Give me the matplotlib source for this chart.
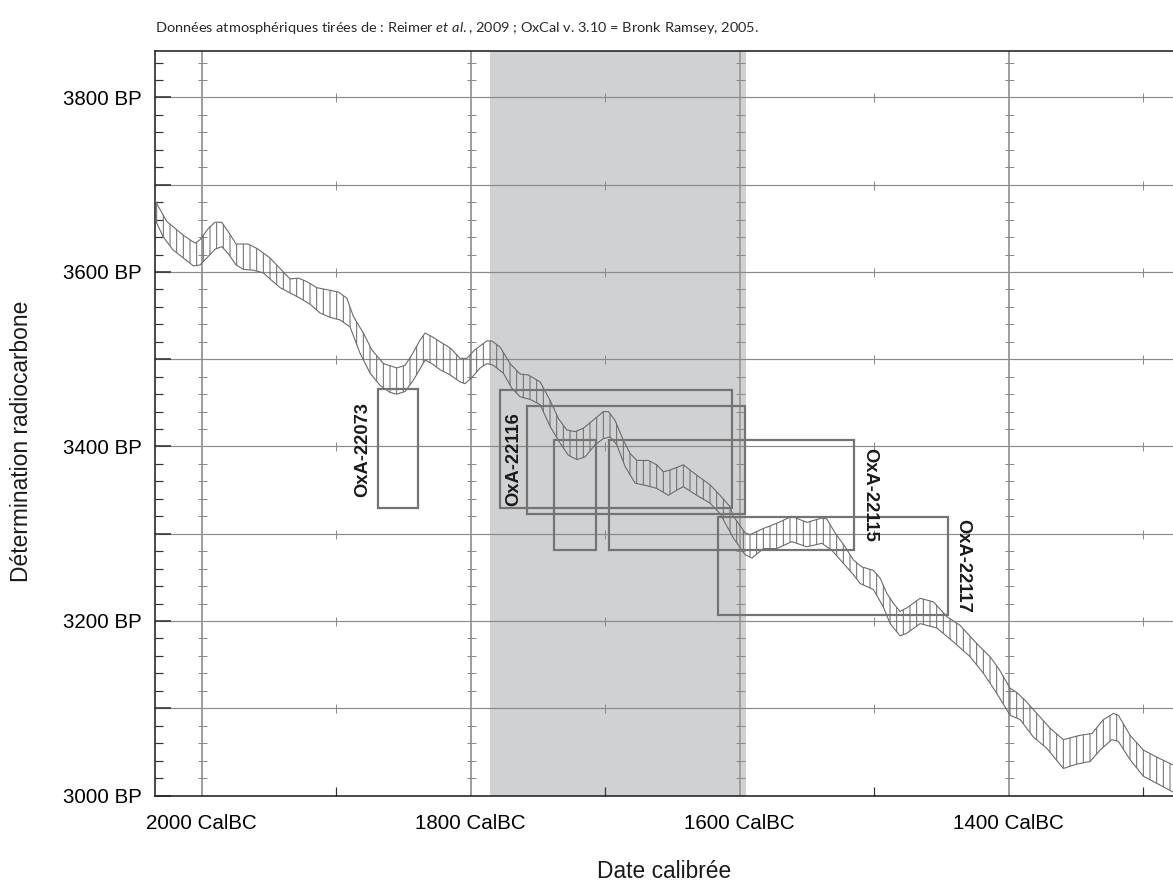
import matplotlib.pyplot as plt
import matplotlib.ticker as mticker
from matplotlib.patches import Rectangle

# courbe d'étalonnage (années av. J.-C. / BP), bord supérieur et inférieur
upper_year = [2034.6, 2025.9, 2013.5, 2004.8, 2001.1, 1994.9, 1990.0, 1985.0, 1980.1, 1974.3,
              1965.2, 1957.8, 1949.1, 1940.4, 1934.2, 1928.0, 1921.8, 1914.3, 1904.5, 1898.3,
              1892.0, 1887.1, 1879.7, 1873.5, 1864.8, 1854.9, 1848.7, 1843.7, 1837.5, 1833.8,
              1828.8, 1822.7, 1815.2, 1807.8, 1802.8, 1796.7, 1787.9, 1784.2, 1778.1, 1770.6,
              1763.2, 1757.0, 1748.3, 1740.9, 1734.7, 1728.5, 1722.3, 1716.1, 1707.4, 1701.3,
              1697.5, 1692.6, 1686.4, 1681.4, 1676.4, 1667.8, 1661.6, 1656.7, 1651.7, 1641.8,
              1631.8, 1621.9, 1614.5, 1607.1, 1604.6, 1595.9, 1592.2, 1582.3, 1572.3, 1561.2,
              1550.0, 1538.9, 1535.2, 1529.0, 1521.6, 1515.4, 1509.1, 1500.5, 1495.5, 1490.6,
              1485.6, 1480.7, 1475.7, 1465.8, 1455.9, 1445.9, 1436.1, 1423.6, 1413.8, 1407.6,
              1398.9, 1393.9, 1387.7, 1379.0, 1369.1, 1359.3, 1346.8, 1338.1, 1329.5, 1322.1,
              1318.4, 1309.7, 1299.8, 1289.9, 1277.8]
upper_bp = [3682, 3658, 3642, 3633, 3637, 3650, 3657, 3657, 3646, 3632,
            3632, 3626, 3616, 3602, 3592, 3593, 3589, 3582, 3579, 3577,
            3570, 3549, 3530, 3511, 3495, 3490, 3493, 3505, 3522, 3530,
            3526, 3520, 3513, 3501, 3501, 3511, 3521, 3521, 3514, 3495,
            3483, 3482, 3474, 3453, 3432, 3419, 3417, 3421, 3432, 3440,
            3440, 3430, 3407, 3392, 3384, 3384, 3379, 3371, 3373, 3379,
            3367, 3356, 3344, 3331, 3320, 3301, 3299, 3306, 3312, 3320,
            3313, 3318, 3317, 3301, 3285, 3270, 3262, 3258, 3249, 3232,
            3220, 3211, 3215, 3226, 3222, 3205, 3195, 3174, 3159, 3146,
            3123, 3118, 3109, 3094, 3077, 3064, 3069, 3071, 3087, 3094,
            3092, 3069, 3052, 3044, 3035]

lower_year = [2034.6, 2028.4, 2021.0, 2013.5, 2006.1, 2001.1, 1994.9, 1990.0, 1985.0, 1980.1,
              1974.3, 1968.9, 1961.5, 1954.1, 1949.1, 1941.6, 1934.2, 1926.8, 1919.3, 1911.9,
              1904.5, 1897.0, 1889.6, 1882.2, 1874.7, 1867.3, 1859.9, 1854.9, 1848.7, 1842.5,
              1833.8, 1828.8, 1822.7, 1815.2, 1807.8, 1804.1, 1799.1, 1792.9, 1787.9, 1783.0,
              1775.6, 1769.4, 1763.2, 1755.8, 1748.3, 1740.9, 1733.5, 1727.3, 1721.0, 1714.9,
              1707.4, 1701.3, 1696.3, 1691.3, 1685.1, 1677.7, 1669.0, 1661.6, 1652.9, 1646.7,
              1641.8, 1631.8, 1621.9, 1614.5, 1604.6, 1595.9, 1590.9, 1582.3, 1572.3, 1561.2,
              1550.0, 1538.9, 1531.4, 1522.8, 1515.4, 1510.4, 1500.5, 1493.1, 1488.1, 1480.7,
              1475.7, 1465.8, 1453.4, 1441.0, 1428.6, 1418.7, 1408.8, 1398.9, 1391.4, 1381.6,
              1371.6, 1359.3, 1349.3, 1339.4, 1332.0, 1323.3, 1318.4, 1309.7, 1299.8, 1289.9,
              1277.8]
lower_bp = [3660, 3640, 3625, 3616, 3607, 3608, 3618, 3626, 3629, 3621,
            3608, 3603, 3602, 3599, 3592, 3582, 3576, 3570, 3563, 3553,
            3548, 3545, 3537, 3507, 3484, 3470, 3462, 3460, 3463, 3476,
            3499, 3495, 3488, 3482, 3474, 3472, 3479, 3490, 3495, 3493,
            3484, 3467, 3457, 3454, 3448, 3423, 3404, 3390, 3385, 3388,
            3402, 3409, 3411, 3402, 3377, 3358, 3355, 3352, 3344, 3350,
            3354, 3344, 3335, 3323, 3295, 3276, 3272, 3283, 3283, 3291,
            3285, 3289, 3281, 3266, 3253, 3243, 3236, 3216, 3197, 3183,
            3186, 3197, 3192, 3176, 3159, 3140, 3117, 3092, 3087, 3067,
            3054, 3031, 3036, 3039, 3052, 3064, 3062, 3041, 3022, 3014,
            3004]

# période grisée
band_start = 1785.5
band_end = 1595

# intervalles calibrés des échantillons
box_from = [1869, 1778, 1758, 1738, 1697, 1616]
box_to = [1839, 1606, 1596, 1707, 1515, 1445]
box_low = [3329, 3329, 3323, 3281, 3281, 3207]
box_high = [3466, 3465, 3446, 3408, 3408, 3319]

sample_names = ['OxA-22073', 'OxA-22116', 'OxA-22115', 'OxA-22117']
name_year = [1880, 1768, 1503, 1434]
name_bp = [3396, 3385, 3344, 3263]
name_rot = [90, 90, 270, 270]

x_labels = [2000, 1800, 1600, 1400]
y_labels = [3000, 3200, 3400, 3600, 3800]

DPI = 80
PX = 72 / DPI  # points par pixel

plt.rcParams['font.family'] = ['Liberation Sans', 'DejaVu Sans']
plt.rcParams['mathtext.fontset'] = 'custom'
plt.rcParams['mathtext.rm'] = 'Lato'
plt.rcParams['mathtext.it'] = 'Lato:italic'
plt.rcParams['hatch.linewidth'] = 1.0 * PX
plt.rcParams['hatch.color'] = '#6a6a6a'

fig = plt.figure(figsize=(1173 / DPI, 882 / DPI), dpi=DPI)
ax = fig.add_axes([155 / 1173, 86.5 / 882, 1 - 155 / 1173, 744.8 / 882])
ax.set_xlim(2034.6, 1277.8)
ax.set_ylim(3000, 3853.6)

grid_c = '#8a8a8a'
curve_c = '#6a6a6a'
box_c = '#747474'

ax.axvspan(band_start, band_end, color='#d0d1d3', lw=0, zorder=0)

for bp in range(3100, 3900, 100):
    ax.axhline(bp, color=grid_c, lw=1.2 * PX, zorder=1)
for yr in x_labels:
    ax.axvline(yr, color='#a0a0a0', lw=2.0 * PX, zorder=1)

# petites croix le long de la grille
cross_x, cross_y = [], []
for yr in x_labels:
    for bp in range(3020, 3860, 20):
        cross_x.append(yr)
        cross_y.append(bp)
ax.plot(cross_x, cross_y, ls='none', marker='_', ms=9 * PX, mew=1.0 * PX, color=grid_c, zorder=1)
cross_x, cross_y = [], []
for yr in [1900, 1700, 1500, 1300]:
    for bp in range(3100, 3900, 100):
        cross_x.append(yr)
        cross_y.append(bp)
ax.plot(cross_x, cross_y, ls='none', marker='|', ms=9 * PX, mew=1.0 * PX, color=grid_c, zorder=1)

# bande de la courbe
poly_x = upper_year + lower_year[::-1]
poly_y = upper_bp + lower_bp[::-1]
ax.fill(poly_x, poly_y, facecolor='none', edgecolor=curve_c, hatch='||', lw=0, zorder=2)
ax.plot(upper_year, upper_bp, color=curve_c, lw=1.1 * PX, zorder=3)
ax.plot(lower_year, lower_bp, color=curve_c, lw=1.1 * PX, zorder=3)

for x0, x1, lo, hi in zip(box_from, box_to, box_low, box_high):
    ax.add_patch(Rectangle((x0, lo), x1 - x0, hi - lo, fill=False,
                           edgecolor=box_c, lw=2.2 * PX, zorder=4))

for name, yr, bp, rot in zip(sample_names, name_year, name_bp, name_rot):
    ax.text(yr, bp, name, rotation=rot, ha='center', va='center',
            fontsize=16.5, fontweight='bold', color='#1a1a1a', zorder=5)

# axes
ax.spines['right'].set_visible(False)
for side in ['left', 'bottom', 'top']:
    ax.spines[side].set_color('#222222')
    ax.spines[side].set_linewidth(1.6 * PX)

ax.set_xticks(x_labels)
ax.set_xticklabels([f'{v} CalBC' for v in x_labels])
ax.set_xticks([1900, 1700, 1500, 1300], minor=True)
ax.tick_params(axis='x', which='major', length=0, pad=17, labelsize=18.5)
ax.tick_params(axis='x', which='minor', direction='in', length=9 * PX,
               width=1.2 * PX, color='#333333')

ax.yaxis.set_major_locator(mticker.MultipleLocator(100))
ax.yaxis.set_minor_locator(mticker.MultipleLocator(20))
ax.yaxis.set_major_formatter(mticker.FuncFormatter(
    lambda v, p: f'{int(v)} BP' if int(v) in y_labels else ''))
ax.tick_params(axis='y', which='major', direction='in', length=16 * PX,
               width=1.6 * PX, color='#333333', pad=12, labelsize=18.5)
ax.tick_params(axis='y', which='minor', direction='in', length=8 * PX,
               width=1.2 * PX, color='#333333')

fig.text(22 / 1173, 1 - 441 / 882, 'Détermination radiocarbone', rotation=90,
         ha='center', va='center', fontsize=20.5, color='#1a1a1a')
fig.text(664 / 1173, 1 - 871 / 882, 'Date calibrée', ha='center', va='center',
         fontsize=20.5, color='#1a1a1a')
fig.text(155 / 1173, 1 - 28 / 882,
         'Données atmosphériques tirées de : Reimer $\\mathit{et\\ al.}$, 2009 ; '
         'OxCal v. 3.10 = Bronk Ramsey, 2005.',
         ha='left', va='center', fontsize=13, family='Lato', color='#2a2a2a')

fig.savefig('out.png', dpi=DPI)
